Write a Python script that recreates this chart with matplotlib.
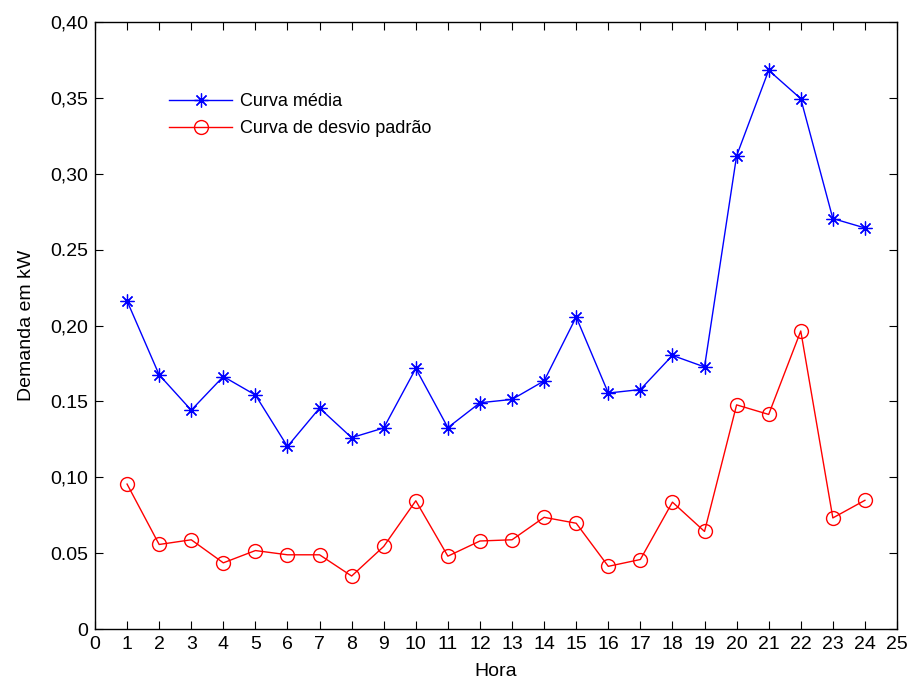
import matplotlib
matplotlib.use("Agg")
import matplotlib.pyplot as plt
from matplotlib.ticker import FixedLocator, FixedFormatter

plt.rcParams['font.family'] = ['Liberation Sans', 'DejaVu Sans']

horas = list(range(1, 25))
curva_media = [0.2162, 0.1675, 0.1442, 0.1664, 0.1542, 0.1203, 0.1456, 0.1261,
               0.1325, 0.1717, 0.1327, 0.1491, 0.1513, 0.1635, 0.2056, 0.1555,
               0.1578, 0.1803, 0.1727, 0.3118, 0.3682, 0.3495, 0.2705, 0.2643]
curva_desvio = [0.0955, 0.0557, 0.0588, 0.0436, 0.0517, 0.0489, 0.0489, 0.0349,
                0.0544, 0.0845, 0.0480, 0.0580, 0.0588, 0.0736, 0.0697, 0.0413,
                0.0458, 0.0836, 0.0643, 0.1477, 0.1414, 0.1964, 0.0732, 0.0848]

x_ticks = list(range(0, 26))
y_ticks = [0, 0.05, 0.10, 0.15, 0.20, 0.25, 0.30, 0.35, 0.40]
y_tick_labels = ['0', '0.05', '0,10', '0.15', '0,20', '0.25', '0,30', '0,35', '0,40']

fig = plt.figure(figsize=(9.09, 6.8), dpi=100)
ax = fig.add_axes([0.1045, 0.075, 0.8823, 0.8926])

ax.plot(horas, curva_media, color='#0000ff', lw=1.0, marker=(8, 2, 0),
        markersize=10, markeredgewidth=0.9, label='Curva média')
ax.plot(horas, curva_desvio, color='#ff0000', lw=1.0, marker='o',
        markersize=10, markerfacecolor='none', markeredgewidth=1.0,
        label='Curva de desvio padrão')

ax.set_xlim(0, 25)
ax.set_ylim(0, 0.40)
ax.xaxis.set_major_locator(FixedLocator(x_ticks))
ax.yaxis.set_major_locator(FixedLocator(y_ticks))
ax.yaxis.set_major_formatter(FixedFormatter(y_tick_labels))
ax.tick_params(direction='in', length=6, width=0.8, top=True, right=True,
               labelsize=14, pad=5)
for s in ax.spines.values():
    s.set_linewidth(1.0)

ax.set_xlabel('Hora', fontsize=14, labelpad=7)
ax.set_ylabel('Demanda em kW', fontsize=14, labelpad=11)

ax.legend(loc='upper left', bbox_to_anchor=(0.072, 0.91), frameon=False,
          fontsize=13, handlelength=3.5, labelspacing=0.55, handletextpad=0.45)

fig.savefig('out.png', dpi=100)
